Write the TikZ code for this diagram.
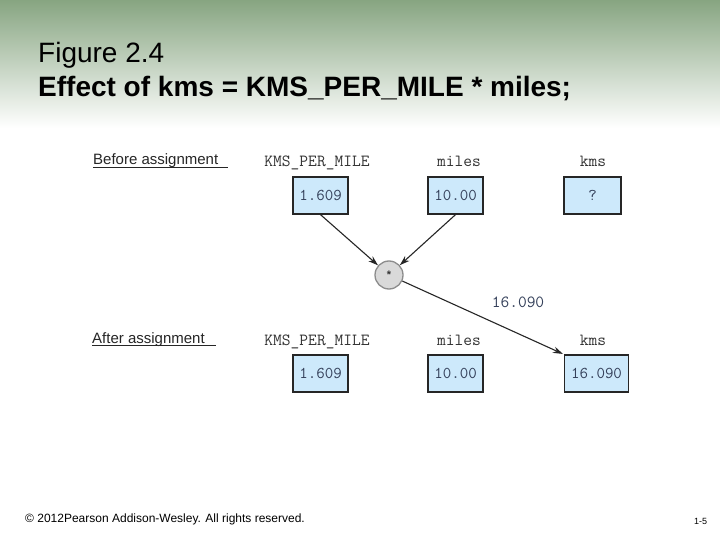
\documentclass[tikz,border=0pt]{standalone}
\usepackage{fontspec}
\setmainfont{Liberation Sans}
\usetikzlibrary{arrows.meta}
\definecolor{boxblue}{HTML}{CDE9FB}
\definecolor{valtext}{HTML}{34405A}
\definecolor{topgreen}{HTML}{87A581}
\definecolor{midgray}{HTML}{C3C9C0}
\definecolor{opfill}{HTML}{D9D9D9}
\definecolor{opdraw}{HTML}{8C8C8C}
\begin{document}
\begin{tikzpicture}[x=1pt,y=-1pt,
  valbox/.style={draw=black!85, line width=1.3pt, fill=boxblue, minimum height=37pt, inner sep=0pt,
    font=\ttfamily\fontsize{16.5}{18}\selectfont, text=valtext},
  varlabel/.style={font=\ttfamily\fontsize{17}{18}\selectfont, text=black!80, inner sep=0pt, anchor=base},
  phase/.style={font=\fontsize{15}{17}\selectfont, text=black!85, inner sep=0pt, anchor=base west},
  arr/.style={draw=black!85, line width=1.1pt, -{Stealth[length=10pt,width=6.5pt]}},
  titlefont/.style={inner sep=0pt, anchor=base west, text=black}
]
\useasboundingbox (0,0) rectangle (720,540);
\fill[white] (0,0) rectangle (720,540);
\shade[top color=topgreen, middle color=midgray, bottom color=white] (0,0) rectangle (720,128);

% title
\node[titlefont, font=\fontsize{28}{30}\selectfont] (t1) at (38,63) {Figure 2.4};
\node[titlefont, font=\bfseries\fontsize{28}{30}\selectfont] (t2) at (38,97) {Effect of kms = KMS\_PER\_MILE * miles;};

% phase labels
\node[phase] (before) at (93,165) {Before assignment};
\draw[black!85, line width=0.8pt] ([yshift=-2.5pt]before.base west) -- ++(135,0);
\node[phase] (after) at (92,343) {After assignment};
\draw[black!85, line width=0.8pt] ([yshift=-2.5pt]after.base west) -- ++(124,0);

% variable labels
\node[varlabel] (lk1) at (317,167) {KMS\_PER\_MILE};
\node[varlabel] (lm1) at (459,167) {miles};
\node[varlabel] (lq1) at (593,167) {kms};
\node[varlabel] (lk2) at (317,345) {KMS\_PER\_MILE};
\node[varlabel] (lm2) at (459,345) {miles};
\node[varlabel] (lq2) at (593,345) {kms};

% value boxes
\node[valbox, minimum width=55pt] (k1) at (320.5,195.5) {1.609};
\node[valbox, minimum width=55pt] (m1) at (455.5,195.5) {10.00};
\node[valbox, minimum width=57pt] (q1) at (592.5,195.5) {?};
\node[valbox, minimum width=55pt] (k2) at (320.5,373.5) {1.609};
\node[valbox, minimum width=55pt] (m2) at (455.5,373.5) {10.00};
\node[valbox, minimum width=64pt] (q2) at (596.5,373.5) {16.090};

% operator
\node[circle, minimum size=28pt, inner sep=0pt, fill=opfill, draw=opdraw, line width=1.3pt,
  font=\bfseries\fontsize{11}{11}\selectfont, text=black!80] (op) at (389,275) {\raisebox{-0.3em}{*}};

\draw[arr] (k1.south) -- (op);
\draw[arr] (m1.south) -- (op);
\draw[arr, shorten >=1pt] (op) -- (q2.north west);
\node[varlabel, text=valtext] (res) at (518,307) {16.090};

% footer
\node[inner sep=0pt, anchor=base west, font=\fontsize{12}{14}\selectfont] (foot) at (25,522) {\textcopyright{} 2012Pearson Addison-Wesley. All rights reserved.};
\node[inner sep=0pt, anchor=base west, font=\fontsize{9}{10}\selectfont] (pg) at (694,524) {1-5};
\end{tikzpicture}
\end{document}
